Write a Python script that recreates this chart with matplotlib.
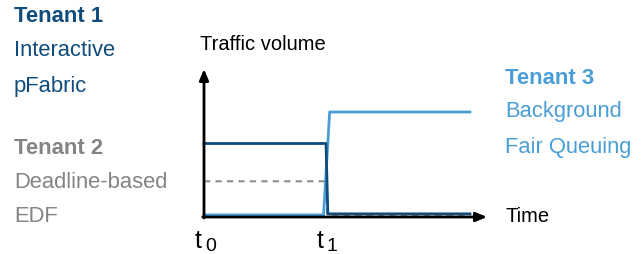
import numpy as np
import matplotlib
matplotlib.use("Agg")
import matplotlib.pyplot as plt

plt.rcParams['font.family'] = ['Liberation Sans', 'DejaVu Sans']

# traffic volume over time (t0 = 0, t1 = 1), tenant 3 peak = 1
t1_x = [0, 1.0, 1.015, 2.18]
t1_y = [0.70, 0.70, 0.03, 0.03]
t2_x = [0, 1.0, 1.01, 2.18]
t2_y = [0.34, 0.34, 0.02, 0.02]
t3_x = [0, 0.98, 1.03, 2.18]
t3_y = [0.02, 0.02, 1.0, 1.0]

dark = '#0f4c7c'
light = '#4a9ed6'
gray = '#848484'

W, H = 643, 254
fig = plt.figure(figsize=(W / 100, H / 100), dpi=100)
ax = fig.add_axes([0, 0, 1, 1])
ax.axis('off')

# map data units to pixels: origin at (204, 217), 122 px per time unit, 105 px per volume unit
x0, y0, sx, sy = 204, 217, 122, 105
ax.set_xlim(-x0 / sx, (W - x0) / sx)
ax.set_ylim(-(H - y0) / sy, y0 / sy)

ax.plot(t2_x, t2_y, color='#8c8c8c', lw=1.5, ls=(0, (3, 2.5)))
ax.plot(t3_x, t3_y, color=light, lw=2)
ax.plot(t1_x, t1_y, color=dark, lw=2)

arrow = dict(arrowstyle='-|>,head_length=0.65,head_width=0.27', color='black', lw=2,
             shrinkA=0, shrinkB=0)
ax.annotate('', xy=(2.32, 0), xytext=(-0.01, 0), arrowprops=arrow)
ax.annotate('', xy=(0, 1.41), xytext=(0, -0.01), arrowprops=arrow)

def px(x, y):
    return x / W, 1 - y / H

fs = 15.8
fig.text(*px(14, 17), 'Tenant 1', color=dark, fontsize=fs, fontweight='bold', va='center')
fig.text(*px(14, 51), 'Interactive', color=dark, fontsize=fs, va='center')
fig.text(*px(14, 86), 'pFabric', color=dark, fontsize=fs, va='center')
fig.text(*px(14, 148), 'Tenant 2', color=gray, fontsize=fs, fontweight='bold', va='center')
fig.text(*px(14, 182), 'Deadline-based', color=gray, fontsize=fs, va='center')
fig.text(*px(14, 216), 'EDF', color=gray, fontsize=fs, va='center')

fig.text(*px(505, 78), 'Tenant 3', color=light, fontsize=fs, fontweight='bold', va='center')
fig.text(*px(505, 112), 'Background', color=light, fontsize=fs, va='center')
fig.text(*px(505, 147), 'Fair Queuing', color=light, fontsize=fs, va='center')

fig.text(*px(200, 44), 'Traffic volume', color='black', fontsize=14.5, va='center')
fig.text(*px(505, 216), 'Time', color='black', fontsize=14.5, va='center')

# time marks: "t" with a subscript index
for lx, sub in [(195, '0'), (317, '1')]:
    fig.text(*px(lx, 248), 't', color='black', fontsize=18, va='baseline')
    fig.text(*px(lx + 10, 251), sub, color='black', fontsize=14, va='baseline')

fig.savefig('out.png', dpi=100)
